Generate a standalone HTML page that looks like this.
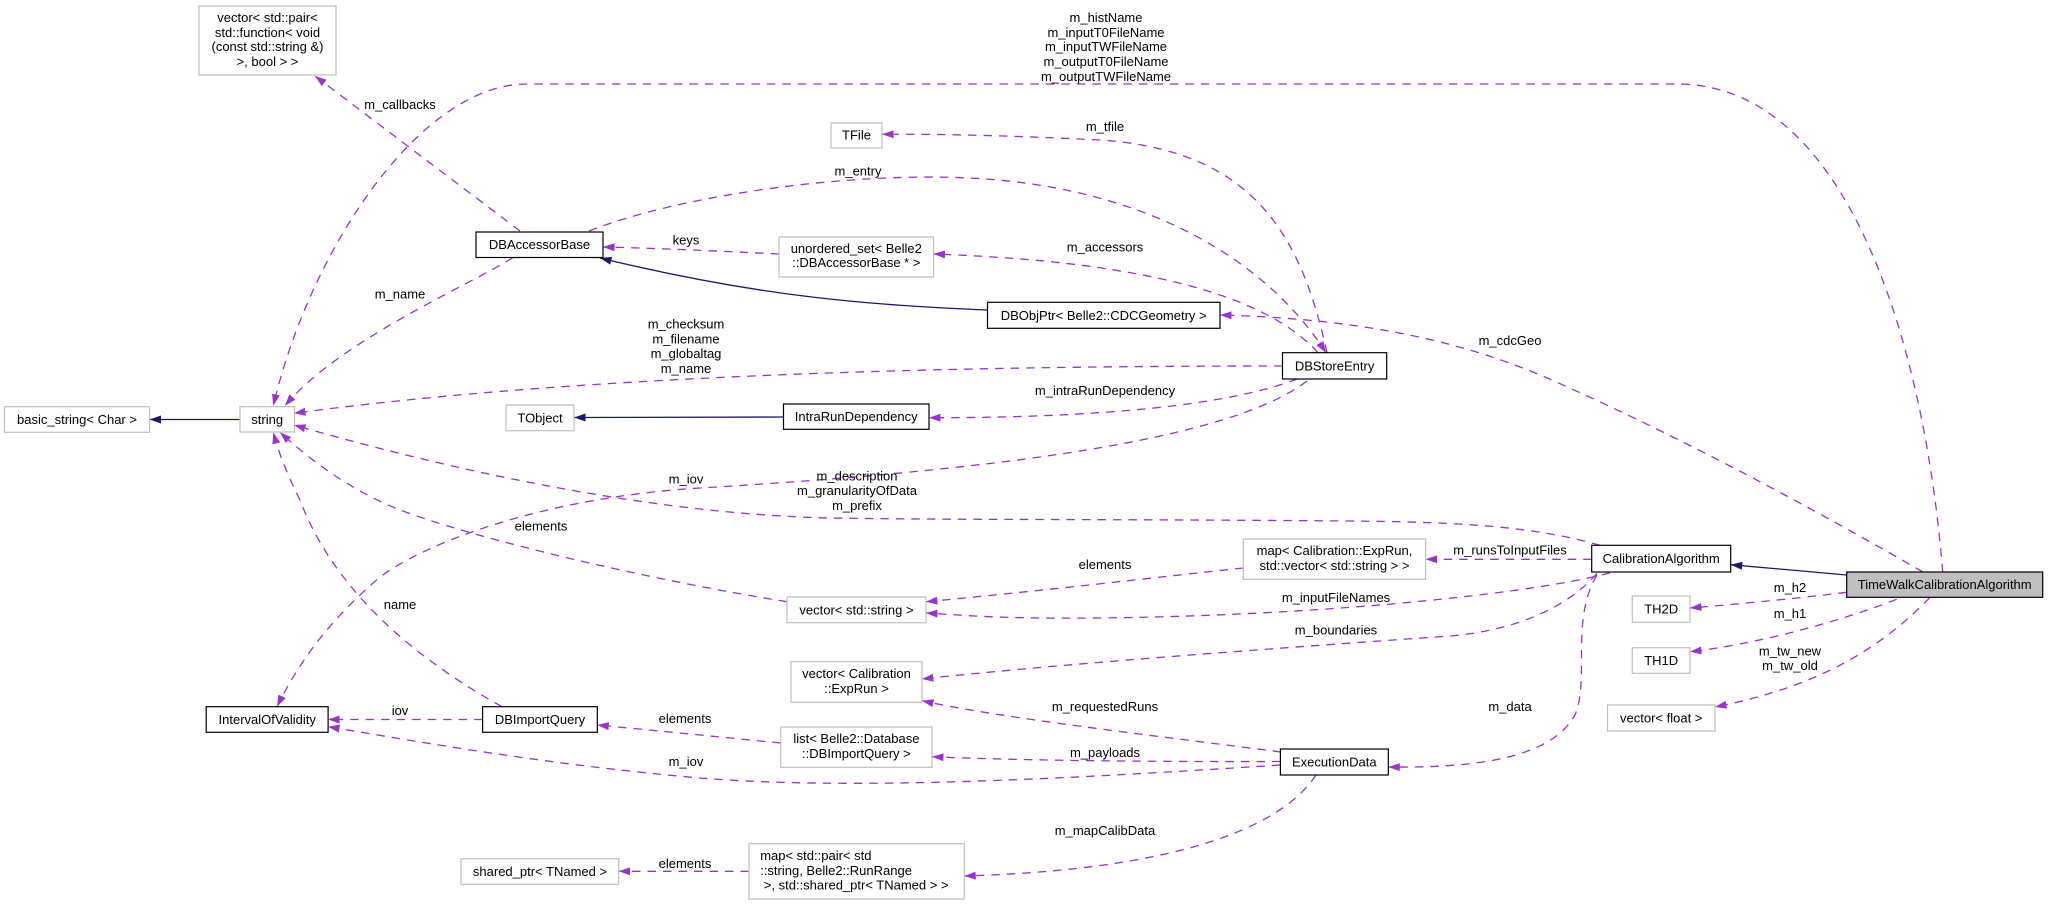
<!DOCTYPE html>
<html><head><meta charset="utf-8"><style>
html,body{margin:0;padding:0;background:#fff;}
svg{display:block;}
text{font-family:"Liberation Sans",Arial,sans-serif;font-size:13px;fill:#000;}
</style></head><body>
<svg width="2048" height="905" viewBox="0 0 2048 905" xmlns="http://www.w3.org/2000/svg">
<defs>
<marker id="ap" markerUnits="userSpaceOnUse" markerWidth="12" markerHeight="10" viewBox="0 0 12 10" refX="11.5" refY="5" orient="auto"><path d="M0,1 L11.5,5 L0,9 z" fill="#9a32cd"/></marker>
<marker id="an" markerUnits="userSpaceOnUse" markerWidth="12" markerHeight="10" viewBox="0 0 12 10" refX="11.5" refY="5" orient="auto"><path d="M0,1 L11.5,5 L0,9 z" fill="#191970"/></marker>
</defs>

<!-- inheritance edges -->
<g fill="none" stroke="#191970" stroke-width="1.3" marker-end="url(#an)">
<path d="M1846.7,575 L1730.7,564.7"/>
<path d="M987.5,310 C870,305 760,297 600,258"/>
<path d="M783.5,417 L574,417.5"/>
<path d="M240,419.5 L149.6,419.5"/>
</g>

<!-- usage edges -->
<g fill="none" stroke="#9a32cd" stroke-width="1.3" stroke-dasharray="8.5,7" marker-end="url(#ap)">
<path d="M1942.7,572 C1925,350 1850,84 1677,84 L527,84 C420,84 310,250 273.3,405.7"/>
<path d="M1923,572 C1850,530 1700,445 1545,377 C1440,332 1330,318 1220,315"/>
<path d="M520,231 L315,76"/>
<path d="M779,254 C720,251 650,248 603,247"/>
<path d="M513,257.5 C470,285 340,340 285,405.7"/>
<path d="M589,231 C680,195 850,172 968,178 C1130,185 1260,250 1326,352.7"/>
<path d="M1327,352.7 C1300,230 1250,150 1100,140 C1000,135 930,134 882,134.3"/>
<path d="M1318,352.7 C1270,300 1160,262 933.5,254"/>
<path d="M1282.5,366 C1000,366 600,372 294,413.3"/>
<path d="M1297,379 C1230,405 1100,418 929,417.7"/>
<path d="M1307,381 C1230,440 1000,470 700,488 C550,497 430,540 380,577 C330,620 300,660 277,706.7"/>
<path d="M1600,545.3 C1530,525 1450,522 1350,521 C1100,519 950,520 830,518 C650,514 450,470 294,425"/>
<path d="M1591.7,559.3 L1425.6,559.3"/>
<path d="M1610,572.7 C1550,590 1350,615 1100,618 C1000,619 960,615 926,613"/>
<path d="M1597,573.3 C1570,605 1520,630 1450,636 C1250,650 1050,665 922,679"/>
<path d="M1597,575 C1570,620 1590,680 1575,715 C1550,760 1470,768 1388.3,767"/>
<path d="M1846.7,592.3 C1800,598 1750,603 1690,608"/>
<path d="M1896.7,599.3 C1830,625 1750,645 1690,651.7"/>
<path d="M1930,597.3 C1870,660 1800,690 1715,707"/>
<path d="M1243.3,568 C1150,578 1050,590 926,601.7"/>
<path d="M787,601.7 C650,580 480,540 400,510 C350,490 310,460 280,432.3"/>
<path d="M502,706.7 C400,650 330,580 300,500 C285,470 278,450 273.3,432.3"/>
<path d="M482.6,719.5 L328.1,719.5"/>
<path d="M780.8,743 C700,735 650,730 597.3,725"/>
<path d="M1280.4,765 C1050,780 850,790 700,778 C550,765 420,742 328.1,726.7"/>
<path d="M1280.4,761.5 C1150,762 1000,760 932,756.7"/>
<path d="M1281,752 C1150,735 1000,718 922,700.7"/>
<path d="M1316,775 C1280,830 1170,870 964.3,876"/>
<path d="M749,871.3 L618.7,871.3"/>
</g>

<!-- nodes -->
<g stroke-width="1.2">
<rect x="199" y="6" width="137" height="69" fill="#fff" stroke="#bfbfbf"/>
<rect x="476" y="232" width="127" height="25.5" fill="#fff" stroke="#000"/>
<rect x="831" y="123" width="51" height="25" fill="#fff" stroke="#bfbfbf"/>
<rect x="779" y="237" width="154.5" height="40" fill="#fff" stroke="#bfbfbf"/>
<rect x="987.5" y="302.3" width="232.5" height="26" fill="#fff" stroke="#000"/>
<rect x="1282.5" y="352.7" width="104.2" height="26.3" fill="#fff" stroke="#000"/>
<rect x="4.5" y="406.7" width="145" height="25.6" fill="#fff" stroke="#bfbfbf"/>
<rect x="240" y="406.7" width="54.5" height="25.3" fill="#fff" stroke="#bfbfbf"/>
<rect x="506" y="405" width="68" height="25.7" fill="#fff" stroke="#bfbfbf"/>
<rect x="783.5" y="404" width="145.5" height="25.3" fill="#fff" stroke="#000"/>
<rect x="1243.3" y="539" width="182.3" height="40.3" fill="#fff" stroke="#bfbfbf"/>
<rect x="1591.7" y="545.3" width="139" height="26.7" fill="#fff" stroke="#000"/>
<rect x="1846.7" y="572" width="196" height="25.3" fill="#bfbfbf" stroke="#000"/>
<rect x="787" y="597" width="139" height="25.7" fill="#fff" stroke="#bfbfbf"/>
<rect x="1632.3" y="596" width="57.7" height="26.3" fill="#fff" stroke="#bfbfbf"/>
<rect x="1632.3" y="647.7" width="57.7" height="25.6" fill="#fff" stroke="#bfbfbf"/>
<rect x="791" y="661.7" width="131" height="40.6" fill="#fff" stroke="#bfbfbf"/>
<rect x="206.2" y="706.7" width="121.9" height="25.6" fill="#fff" stroke="#000"/>
<rect x="482.6" y="706.7" width="114.7" height="25.6" fill="#fff" stroke="#000"/>
<rect x="1607.5" y="705" width="107.5" height="26" fill="#fff" stroke="#bfbfbf"/>
<rect x="780.8" y="727" width="151.2" height="40.3" fill="#fff" stroke="#bfbfbf"/>
<rect x="1280.4" y="749" width="107.9" height="26" fill="#fff" stroke="#000"/>
<rect x="461" y="858.7" width="157.7" height="25.6" fill="#fff" stroke="#bfbfbf"/>
<rect x="749" y="843.7" width="215.3" height="55.3" fill="#fff" stroke="#bfbfbf"/>
</g>

<!-- node labels -->
<g text-anchor="middle">
<text x="267.5" y="21.8">vector&lt; std::pair&lt;</text>
<text x="267.5" y="36.8">std::function&lt; void</text>
<text x="267.5" y="51.2">(const std::string &amp;)</text>
<text x="267.5" y="66.2">&gt;, bool &gt; &gt;</text>
<text x="539.5" y="249">DBAccessorBase</text>
<text x="856.5" y="139.7">TFile</text>
<text x="856.3" y="252.8">unordered_set&lt; Belle2</text>
<text x="856.3" y="267.2">::DBAccessorBase * &gt;</text>
<text x="1103.7" y="319.8">DBObjPtr&lt; Belle2::CDCGeometry &gt;</text>
<text x="1334.6" y="370.3">DBStoreEntry</text>
<text x="77" y="424">basic_string&lt; Char &gt;</text>
<text x="267.2" y="424">string</text>
<text x="540" y="422.3">TObject</text>
<text x="856.2" y="421.2">IntraRunDependency</text>
<text x="1334.5" y="555.2">map&lt; Calibration::ExpRun,</text>
<text x="1334.5" y="570.2">std::vector&lt; std::string &gt; &gt;</text>
<text x="1661.2" y="563.2">CalibrationAlgorithm</text>
<text x="1944.7" y="589.2">TimeWalkCalibrationAlgorithm</text>
<text x="856.5" y="614.3">vector&lt; std::string &gt;</text>
<text x="1661.2" y="613.7">TH2D</text>
<text x="1661.2" y="665">TH1D</text>
<text x="856.5" y="677.8">vector&lt; Calibration</text>
<text x="856.5" y="692.8">::ExpRun &gt;</text>
<text x="267.2" y="724">IntervalOfValidity</text>
<text x="540" y="724">DBImportQuery</text>
<text x="1661.2" y="722.5">vector&lt; float &gt;</text>
<text x="856.4" y="743.2">list&lt; Belle2::Database</text>
<text x="856.4" y="757.8">::DBImportQuery &gt;</text>
<text x="1334.3" y="766.5">ExecutionData</text>
<text x="540" y="876">shared_ptr&lt; TNamed &gt;</text>
</g>
<g text-anchor="start">
<text x="760.2" y="860.2">map&lt; std::pair&lt; std</text>
<text x="760.2" y="875.2">::string, Belle2::RunRange</text>
<text x="763.8" y="889.5">&gt;, std::shared_ptr&lt; TNamed &gt; &gt;</text>
</g>

<!-- edge labels -->
<g text-anchor="middle">
<text x="1106" y="21.8">m_histName</text>
<text x="1106" y="36.8">m_inputT0FileName</text>
<text x="1106" y="51.2">m_inputTWFileName</text>
<text x="1106" y="66.2">m_outputT0FileName</text>
<text x="1106" y="81.2">m_outputTWFileName</text>
<text x="400" y="109.2">m_callbacks</text>
<text x="1105" y="131.2">m_tfile</text>
<text x="858" y="175.5">m_entry</text>
<text x="686" y="244.5">keys</text>
<text x="1105" y="251.5">m_accessors</text>
<text x="400" y="298.5">m_name</text>
<text x="686" y="328.5">m_checksum</text>
<text x="686" y="343.5">m_filename</text>
<text x="686" y="357.8">m_globaltag</text>
<text x="686" y="372.8">m_name</text>
<text x="1510" y="344.8">m_cdcGeo</text>
<text x="1105" y="395.2">m_intraRunDependency</text>
<text x="686" y="483.5">m_iov</text>
<text x="857" y="480.5">m_description</text>
<text x="857" y="495.2">m_granularityOfData</text>
<text x="857" y="510.2">m_prefix</text>
<text x="541" y="530.5">elements</text>
<text x="1510" y="554.5">m_runsToInputFiles</text>
<text x="1105" y="568.8">elements</text>
<text x="1790" y="592.2">m_h2</text>
<text x="1336" y="602.2">m_inputFileNames</text>
<text x="400" y="608.8">name</text>
<text x="1790" y="617.8">m_h1</text>
<text x="1336" y="634.5">m_boundaries</text>
<text x="1790" y="655.5">m_tw_new</text>
<text x="1790" y="670.2">m_tw_old</text>
<text x="1105" y="711.2">m_requestedRuns</text>
<text x="1510" y="711.2">m_data</text>
<text x="400" y="715.2">iov</text>
<text x="685" y="723.2">elements</text>
<text x="1105" y="756.8">m_payloads</text>
<text x="686" y="766.2">m_iov</text>
<text x="1105" y="835.2">m_mapCalibData</text>
<text x="685" y="867.8">elements</text>
</g>
</svg>
</body></html>
